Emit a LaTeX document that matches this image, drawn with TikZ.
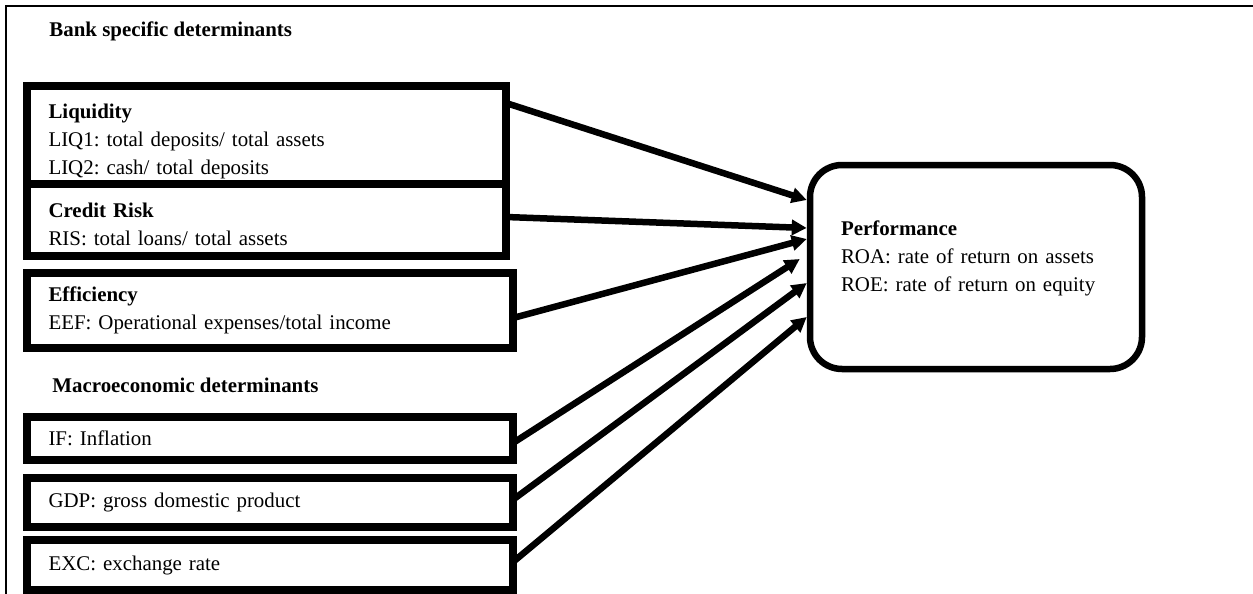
\documentclass[tikz,border=0pt]{standalone}
\usepackage{fontspec}
\setmainfont{Liberation Serif}
\frenchspacing
\usetikzlibrary{arrows.meta,positioning,calc}
\tikzset{
  every node/.style={font=\fontsize{10.45}{14}\selectfont},
  base/.style={align=left,draw=black,line width=3.75pt,fill=white,inner xsep=10.75pt,inner ysep=0pt,outer sep=0pt},
  factor/.style={base,text width=218pt},
  macro/.style={base,text width=221.5pt},
  lower/.style={execute at begin node={\rule{0pt}{#1}}},
  raise/.style={execute at end node={\rule[-#1]{0pt}{0pt}}},
  result/.style={align=left,draw=black,line width=3.25pt,fill=white,rounded corners=16pt,inner xsep=15.5pt,text width=135pt,minimum height=102pt},
  heading/.style={font=\fontsize{10.45}{14}\selectfont\bfseries,anchor=base west,inner sep=0pt},
  frame/.style={draw=black,line width=1.15pt},
  flow/.style={-{Triangle[length=7.5pt,width=7.5pt]},line width=3.25pt}
}
\begin{document}
\begin{tikzpicture}[x=0.5pt,y=-0.5pt]
\useasboundingbox (0,0) rectangle (1253,594);
\draw[frame] (6,594) -- (6,6) -- (1253,6);

\node[heading] (bankhead) at (49,36) {Bank specific determinants};
\node[factor,lower=14pt,minimum height=49pt,anchor=north west] (liq) at (27,86) {\textbf{Liquidity}\\LIQ1: total deposits/ total assets\\LIQ2: cash/ total deposits};
\node[factor,lower=12pt,minimum height=36pt,below=0pt of liq.south west,anchor=north west] (risk) {\textbf{Credit Risk}\\RIS: total loans/ total assets};
\node[macro,minimum height=37.5pt,below=8.5pt of risk.south west,anchor=north west] (eff) {\textbf{Efficiency}\\EEF: Operational expenses/total income};

\node[heading] (macrohead) at (52,392) {Macroeconomic determinants};
\node[macro,minimum height=21.5pt,below=34.5pt of eff.south west,anchor=north west] (infl) {IF: Inflation};
\node[macro,minimum height=24.5pt,below=9pt of infl.south west,anchor=north west] (gdp) {GDP: gross domestic product};
\node[macro,minimum height=25pt,below=6.5pt of gdp.south west,anchor=north west] (exc) {EXC: exchange rate};

\node[result,raise=11pt] (perf) at (976,267) {\textbf{Performance}\\ROA: rate of return on assets\\ROE: rate of return on equity};

\draw[flow] ([yshift=16pt]liq.east) -- ([yshift=33.5pt]perf.west);
\draw[flow] ([yshift=1.5pt]risk.east) -- ([yshift=19.5pt]perf.west);
\draw[flow] ([yshift=-3.75pt]eff.east) -- ([yshift=14pt]perf.west);
\draw[flow] ([yshift=-2.25pt]infl.east) -- ([xshift=-3.5pt,yshift=4pt]perf.west);
\draw[flow] ([yshift=1.4pt]gdp.east) -- ([yshift=-8pt]perf.west);
\draw[flow] ([yshift=1.5pt]exc.east) -- ([yshift=-25pt]perf.west);
\end{tikzpicture}
\end{document}
